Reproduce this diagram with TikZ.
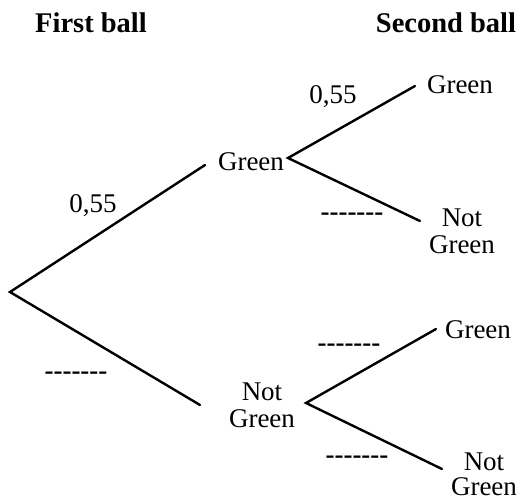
\documentclass[tikz,border=0pt]{standalone}
\usepackage{fontspec}
\setmainfont{Liberation Serif}[Ligatures=TeXOff]
\begin{document}
\begin{tikzpicture}[x=1pt,y=-1pt,
  lbl/.style={font=\fontsize{27}{27}\selectfont, inner sep=0pt, align=center},
  blank/.style={font=\fontsize{27}{27}\selectfont\bfseries, inner sep=0pt},
  head/.style={font=\fontsize{28.5}{28.5}\selectfont\bfseries, inner sep=0pt},
  branch/.style={line width=2.4pt, line cap=round}]
\useasboundingbox (0,0) rectangle (520,501);
% headings
\node[head] (h1) at (91,23) {First ball};
\node[head] (h2) at (446,23) {Second ball};
% outcome labels
\node[lbl] (g1) at (251,162) {Green};
\node[lbl] (ng1) at (262,405) {Not\\Green};
\node[lbl] (g2) at (460,85) {Green};
\node[lbl] (ng2) at (462,231) {Not\\Green};
\node[lbl] (g3) at (478,330) {Green};
\node[lbl, font=\fontsize{27}{25}\selectfont] (ng3) at (484,474) {Not\\Green};
% probabilities
\node[lbl] (p1) at (93,206) {0,55};
\node[lbl] (p2) at (333,97) {0,55};
\node[blank] (d1) at (76,376) {-------};
\node[blank] (d2) at (352,217) {-------};
\node[blank] (d3) at (349,348) {-------};
\node[blank] (d4) at (357,460) {-------};
% branch points
\coordinate (root) at (10,292);
\coordinate (g1in) at (205,165);
\coordinate (g1out) at (288,158);
\coordinate (ng1in) at (200,405);
\coordinate (ng1out) at (306,403);
\coordinate (g2in) at (415,86);
\coordinate (ng2in) at (420,221);
\coordinate (g3in) at (436,329);
\coordinate (ng3in) at (442,469);
\draw[branch] (g1in) -- (root) -- (ng1in);
\draw[branch] (g2in) -- (g1out) -- (ng2in);
\draw[branch] (g3in) -- (ng1out) -- (ng3in);
\end{tikzpicture}
\end{document}
